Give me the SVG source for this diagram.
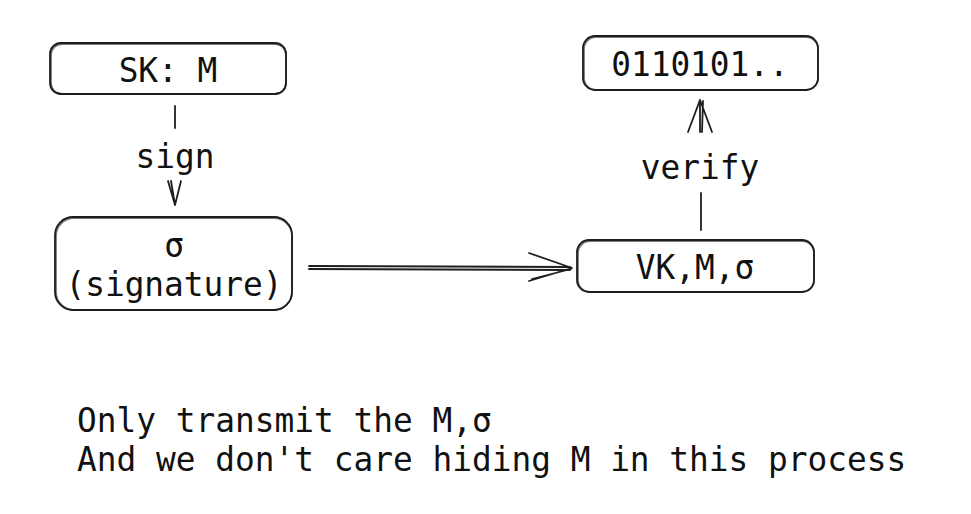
<svg xmlns="http://www.w3.org/2000/svg" width="971" height="514" viewBox="0 0 971 514">
<style>
.box{fill:none;stroke:#1e1e1e;stroke-width:1.8;stroke-linecap:round}
.ln{fill:none;stroke:#1e1e1e;stroke-width:1.8;stroke-linecap:round;stroke-linejoin:round}
text{font-family:"DejaVu Sans Mono","Liberation Mono",monospace;font-size:32.8px;fill:#111;text-anchor:middle}
.note{text-anchor:start}
</style>
<rect width="971" height="514" fill="#fff"/>
<g id="sk">
<rect class="box" x="50" y="43" width="236" height="51" rx="11"/>
<rect class="box" x="51" y="44" width="235" height="50" rx="11" opacity="0.6"/>
<text x="168" y="82">SK: M</text>
</g>
<g id="sig">
<rect class="box" x="55" y="217" width="237" height="93" rx="18"/>
<rect class="box" x="56" y="218" width="236" height="92" rx="18" opacity="0.6"/>
<text x="174" y="257">σ</text>
<text x="174" y="296">(signature)</text>
</g>
<g id="vk">
<rect class="box" x="577" y="240" width="237" height="52" rx="12"/>
<rect class="box" x="578" y="241" width="236" height="51" rx="12" opacity="0.6"/>
<text x="695" y="279">VK,M,σ</text>
</g>
<g id="out">
<rect class="box" x="583" y="36" width="235" height="54" rx="12"/>
<rect class="box" x="584" y="37" width="234" height="53" rx="12" opacity="0.6"/>
<text x="700" y="76">0110101..</text>
</g>
<g id="connectors">
<path class="ln" d="M175 106 L175 128"/>
<path class="ln" d="M168 181 L175 205 L181 181 M171 181 L175 205"/>
<path class="ln" d="M309 266 L570 267 M309 269 L570 270"/>
<path class="ln" d="M529 253 L572 268 L529 281 M532 279 L571 269"/>
<path class="ln" d="M700 100 L700 132 M688 132 L700 100 L712 132 M703 101 L702 132"/>
<path class="ln" d="M701 193 L701 230"/>
<text x="175" y="168">sign</text>
<text x="700" y="179">verify</text>
</g>
<g id="note">
<text class="note" x="77" y="432">Only transmit the M,σ</text>
<text class="note" x="77" y="471">And we don't care hiding M in this process</text>
</g>
</svg>
